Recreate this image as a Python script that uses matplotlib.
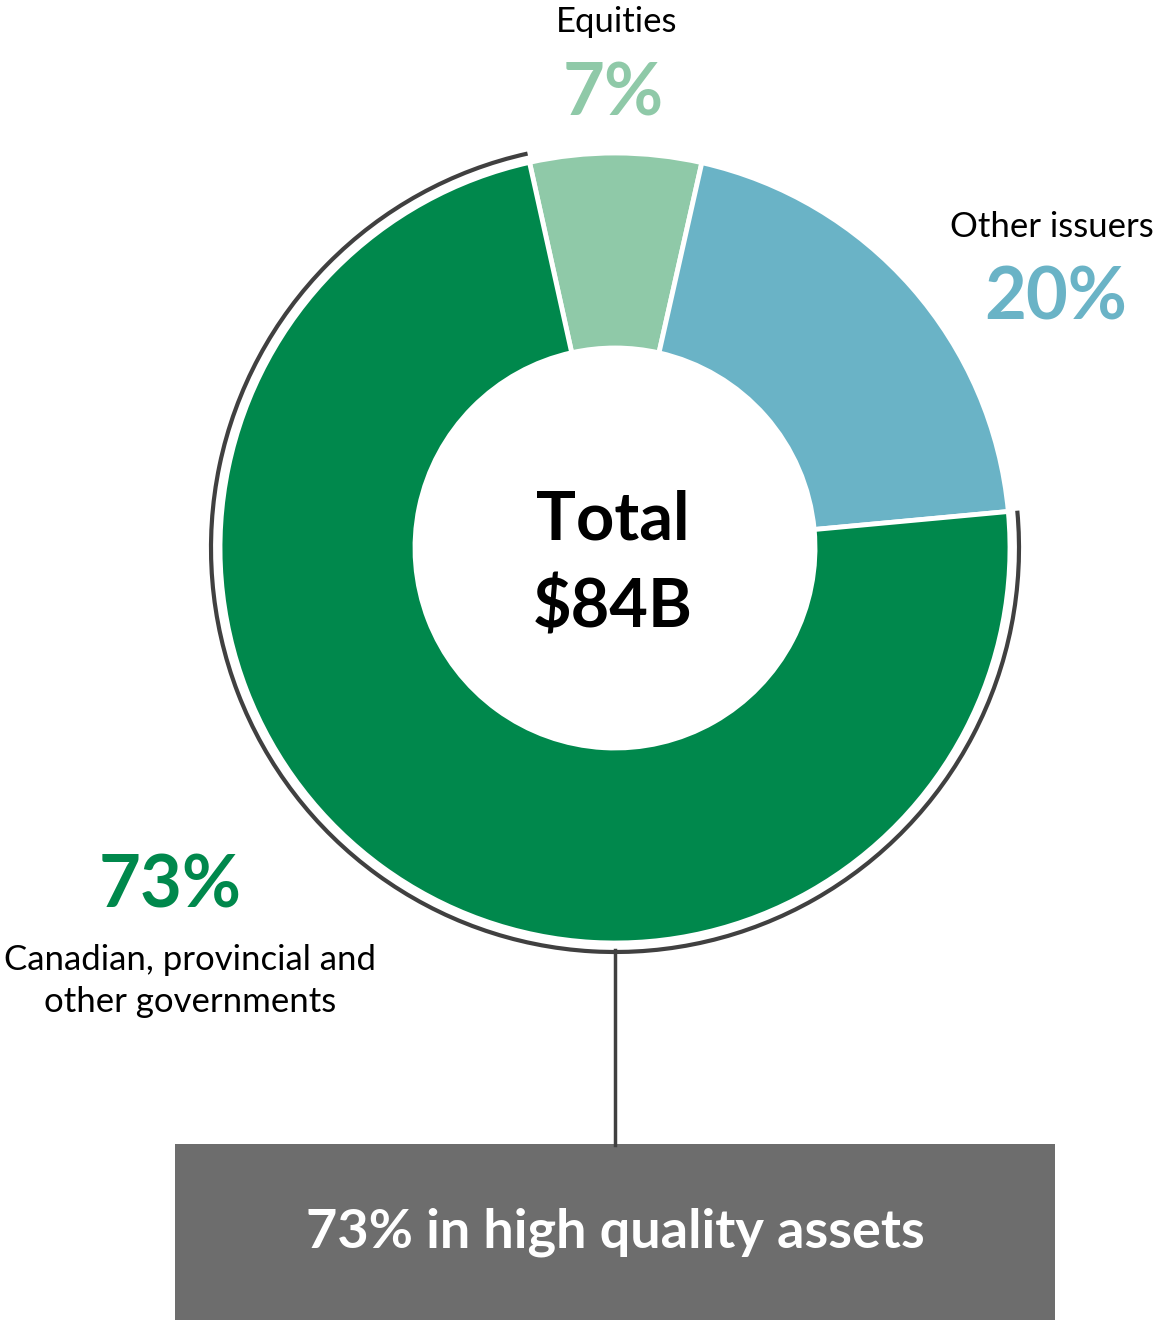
"""
Donut chart of the securities portfolio by issuer, with a callout box underneath
"""
import matplotlib.pyplot as plt
from matplotlib.patches import Arc, Rectangle

plt.rcParams['font.family'] = ['Lato', 'DejaVu Sans']

# data
categories = ['Equities', 'Other issuers', 'Canadian, provincial and\nother governments']
shares = [7, 20, 73]
pct_labels = ['7%', '20%', '73%']
colors = ['#8fc9a8', '#6ab3c6', '#00884c']
total_text = 'Total\n$84B'
callout_text = '73% in high quality assets'

W, H = 1154, 1320


def py(y):
    """convert a top-down pixel row to data y"""
    return H - y


fig = plt.figure(figsize=(W / 100, H / 100), dpi=100)
ax = fig.add_axes([0, 0, 1, 1])

cx, cy = 615, py(548)
r_out, r_in = 395, 200
start = 102.5  # equities sits just left of the top

ax.pie(shares, colors=colors, startangle=start, counterclock=False,
       center=(cx, cy), radius=r_out,
       wedgeprops=dict(width=r_out - r_in, edgecolor='white', linewidth=3.5))

# outer arc round the government slice
gov_start = start - 360 * (shares[0] + shares[1]) / 100
arc = Arc((cx, cy), 2 * 404, 2 * 404, theta1=start, theta2=gov_start + 360,
          color='#404040', linewidth=3)
ax.add_patch(arc)

# connector and callout box
ax.plot([cx, cx], [py(950), py(1145)], color='#404040', linewidth=2.5)
ax.add_patch(Rectangle((175, 0), 880, py(1144), facecolor='#6d6d6d', edgecolor='none'))
ax.text(cx, py(1232), callout_text, ha='center', va='center', color='white',
        fontsize=39, fontweight='bold')

# centre text
ax.text(613, py(520), total_text.split('\n')[0], ha='center', va='center',
        fontsize=48, fontweight='bold', color='black')
ax.text(613, py(608), total_text.split('\n')[1], ha='center', va='center',
        fontsize=48, fontweight='bold', color='black')

# slice labels
ax.text(617, py(22), categories[0], ha='center', va='center', fontsize=25)
ax.text(613, py(95), pct_labels[0], ha='center', va='center', fontsize=52,
        fontweight='bold', color=colors[0])
ax.text(1052, py(227), categories[1], ha='center', va='center', fontsize=25)
ax.text(1056, py(299), pct_labels[1], ha='center', va='center', fontsize=52,
        fontweight='bold', color=colors[1])
ax.text(170, py(887), pct_labels[2], ha='center', va='center', fontsize=52,
        fontweight='bold', color=colors[2])
ax.text(190, py(981), categories[2], ha='center', va='center', fontsize=25,
        linespacing=1.4)

ax.set_xlim(0, W)
ax.set_ylim(0, H)
ax.set_aspect('equal')
ax.axis('off')

fig.savefig('out.png', dpi=100)
